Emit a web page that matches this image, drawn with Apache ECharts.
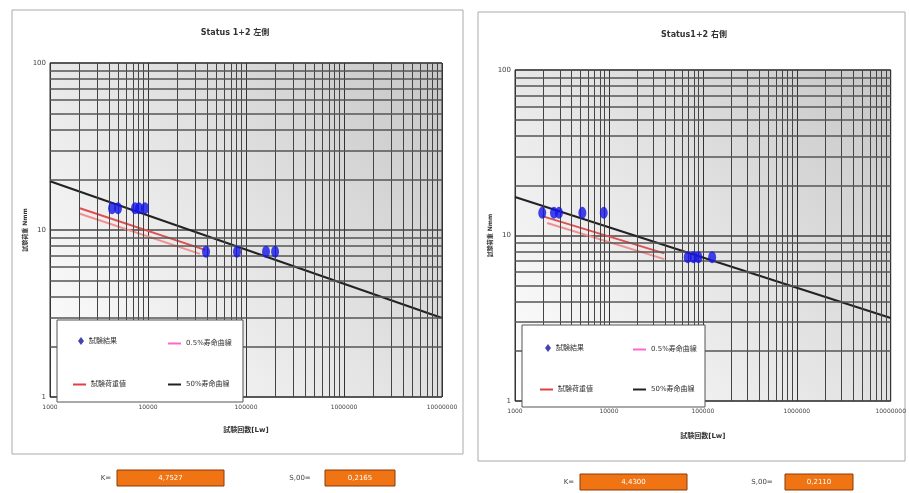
<!DOCTYPE html>
<html><head><meta charset="utf-8">
<script src="https://cdn.jsdelivr.net/npm/echarts@6/dist/echarts.min.js"></script>
<style>html,body{margin:0;padding:0;background:#fff}#c{width:909px;height:493px}</style>
</head><body><div id="c"></div>
<script>
// ---- data ----
const xTickLabels = ['1000','10000','100000','1000000','10000000'];
const yTickLabels = ['1','10','100'];
const titles = ['Status 1+2 左側', 'Status1+2 右側'];
const legendNames = ['試験結果','0.5%寿命曲線','試験荷重値','50%寿命曲線'];
const xName = '試験回数[Lw]';
const yName = '試験荷重 Nmm';

const leftTestN = [4300, 4940, 7370, 8090, 9310, 39100, 80900, 160000, 198000];
const leftTestS = [13.5, 13.5, 13.5, 13.5, 13.5, 7.4, 7.4, 7.4, 7.4];
const leftLife50N = [1000, 10000000];
const leftLife50S = [19.6, 2.97];
const leftRedN = [2020, 38200];
const leftRedS = [13.5, 7.6];
const leftPinkN = [2020, 33900];
const leftPinkS = [12.5, 7.2];

const rightTestN = [1950, 2600, 2940, 5210, 8810, 69000, 79600, 89700, 125600];
const rightTestS = [13.7, 13.7, 13.7, 13.7, 13.7, 7.4, 7.4, 7.4, 7.4];
const rightLife50N = [1000, 10000000];
const rightLife50S = [17.1, 3.17];
const rightRedN = [1950, 38900];
const rightRedS = [13.1, 7.8];
const rightPinkN = [2200, 38900];
const rightPinkS = [11.9, 7.2];

const kLabels = ['K=', 'K='];
const kValues = ['4,7527', '4,4300'];
const sLabels = ['S,00=', 'S,00='];
const sValues = ['0,2165', '0,2110'];

// ---- helpers ----
const zip = (a, b) => a.map((v, i) => [v, b[i]]);
function minorValues(lo, hi) {
  const out = [];
  for (let d = lo; d < hi; d *= 10) for (let k = 2; k <= 9; k++) out.push(k * d);
  return out;
}
const xMinor = minorValues(1000, 10000000);
const yMinor = minorValues(1, 100);

const FONT = 'DejaVu Sans, Noto Sans CJK JP, sans-serif';
const grids = [
  {left: 50, top: 63, width: 392, height: 334},
  {left: 515, top: 70, width: 385, height: 331}
];
const bg = {type:'linear', x:0, y:1, x2:1, y2:0, colorStops:[{offset:0,color:'#ffffff'},{offset:0.5,color:'#e4e4e4'},{offset:1,color:'#c6c6c6'}]};

const option = {
  animation: false,
  textStyle: {fontFamily: FONT},
  grid: grids.map(g => Object.assign({show:true, backgroundColor:bg, borderColor:'#333', borderWidth:1}, g)),
  xAxis: [0,1].map(i => ({
    type:'log', logBase:10, gridIndex:i, min:1000, max:10000000,
    name: xName, nameLocation:'middle', nameGap: i===0 ? 30 : 32,
    nameTextStyle:{fontSize:7, fontWeight:'bold', color:'#333'},
    axisLine:{show:false}, axisTick:{show:false},
    axisLabel:{fontSize:6, color:'#444', margin:7, formatter: v => xTickLabels[Math.round(Math.log10(v)) - 3]},
    splitLine:{show:true, lineStyle:{color:'#333', width:1}}
  })),
  yAxis: [0,1].map(i => ({
    type:'log', logBase:10, gridIndex:i, min:1, max:100,
    name: yName, nameLocation:'middle', nameGap: i===0 ? 20 : 14, nameRotate:90,
    nameTextStyle:{fontSize:6, fontWeight:'bold', color:'#333'},
    axisLine:{show:false}, axisTick:{show:false},
    axisLabel:{fontSize:7, color:'#444', margin:4, formatter: v => yTickLabels[Math.round(Math.log10(v))]},
    splitLine:{show:true, lineStyle:{color:'#444', width:1.5}}
  })),
  legend: [],
  graphic: [],
  series: []
};

const sets = [
  {test: zip(leftTestN, leftTestS), life: zip(leftLife50N, leftLife50S), red: zip(leftRedN, leftRedS), pink: zip(leftPinkN, leftPinkS)},
  {test: zip(rightTestN, rightTestS), life: zip(rightLife50N, rightLife50S), red: zip(rightRedN, rightRedS), pink: zip(rightPinkN, rightPinkS)}
];

sets.forEach((s, i) => {
  option.series.push({
    type:'line', xAxisIndex:i, yAxisIndex:i, data:s.life, symbol:'none', silent:true, z:1,
    lineStyle:{opacity:0},
    markLine:{silent:true, symbol:'none', label:{show:false}, animation:false,
      data: xMinor.map(v => ({xAxis:v, lineStyle:{color:'#444', width:1, type:'solid'}}))
        .concat(yMinor.map(v => ({yAxis:v, lineStyle:{color:'#555', width:1.5, type:'solid'}})))}
  });
  option.series.push({name:legendNames[2], type:'line', xAxisIndex:i, yAxisIndex:i, data:s.red, symbol:'none', z:3,
    lineStyle:{color:'#e05050', width:2}, itemStyle:{color:'#e05050'}});
  option.series.push({name:legendNames[1], type:'line', xAxisIndex:i, yAxisIndex:i, data:s.pink, symbol:'none', z:3,
    lineStyle:{color:'#f09090', width:2}, itemStyle:{color:'#ff66cc'}});
  option.series.push({name:legendNames[3], type:'line', xAxisIndex:i, yAxisIndex:i, data:s.life, symbol:'none', z:4,
    lineStyle:{color:'#222', width:2}, itemStyle:{color:'#222'}});
  option.series.push({name:legendNames[0], type:'scatter', xAxisIndex:i, yAxisIndex:i, data:s.test, symbol:'circle', symbolSize:[8,12], z:5,
    itemStyle:{color:'#1414e6'}});
});

// legends & boxes
const legendLayout = [
  {box:[57,320,186,82], items:[[78,337,'diamond'],[168,340,'pink'],[73,381,'red'],[168,381,'black']]},
  {box:[522,325,183,82], items:[[545,344,'diamond'],[633,346,'pink'],[540,386,'red'],[633,386,'black']]}
];
const lineColors = {pink:'#ff66cc', red:'#e04040', black:'#222'};
legendLayout.forEach((L, i) => {
  option.graphic.push({type:'rect', shape:{x:L.box[0], y:L.box[1], width:L.box[2], height:L.box[3]},
    style:{fill:'#fff', stroke:'#555', lineWidth:1}, z:50});
  L.items.forEach((it, j) => {
    const nm = legendNames[j];
    const lg = {left:it[0], top:it[1], padding:0, itemGap:0, selectedMode:false, z:60,
      textStyle:{fontSize:7, color:'#333', fontFamily:FONT}};
    if (it[2] === 'diamond') {
      lg.data = [{name:nm, icon:'diamond', itemStyle:{color:'#1414a0'}}]; lg.itemWidth = 6; lg.itemHeight = 8;
    } else {
      lg.data = [{name:nm, icon:'rect', itemStyle:{color:lineColors[it[2]]}}]; lg.itemWidth = 13; lg.itemHeight = 2;
    }
    option.legend.push(lg);
  });
});

// frames, titles, bottom values
option.graphic.push(
  {type:'rect', shape:{x:12, y:10, width:451, height:444}, style:{fill:'none', stroke:'#aaa', lineWidth:1}, z:-10, silent:true},
  {type:'rect', shape:{x:478, y:12, width:427, height:449}, style:{fill:'none', stroke:'#aaa', lineWidth:1}, z:-10, silent:true},
  {type:'text', x:235, y:33, style:{text:titles[0], fill:'#333', font:'bold 8px ' + FONT, textAlign:'center', textVerticalAlign:'middle'}},
  {type:'text', x:694, y:35, style:{text:titles[1], fill:'#333', font:'bold 8px ' + FONT, textAlign:'center', textVerticalAlign:'middle'}}
);
const bottom = [
  {kx:106, sx:300, y:478, k:[117,470,107,16], s:[325,470,70,16]},
  {kx:569, sx:762, y:482, k:[580,474,107,16], s:[785,474,68,16]}
];
bottom.forEach((b, i) => {
  option.graphic.push(
    {type:'text', x:b.kx, y:b.y, style:{text:kLabels[i], fill:'#444', font:'7px ' + FONT, textAlign:'center', textVerticalAlign:'middle'}},
    {type:'text', x:b.sx, y:b.y, style:{text:sLabels[i], fill:'#444', font:'7px ' + FONT, textAlign:'center', textVerticalAlign:'middle'}},
    {type:'rect', shape:{x:b.k[0], y:b.k[1], width:b.k[2], height:b.k[3]}, style:{fill:'#f07414', stroke:'#8a3a08', lineWidth:1}},
    {type:'rect', shape:{x:b.s[0], y:b.s[1], width:b.s[2], height:b.s[3]}, style:{fill:'#f07414', stroke:'#8a3a08', lineWidth:1}},
    {type:'text', x:b.k[0]+b.k[2]/2, y:b.y, style:{text:kValues[i], fill:'#fff', font:'7px ' + FONT, textAlign:'center', textVerticalAlign:'middle'}, z:10},
    {type:'text', x:b.s[0]+b.s[2]/2, y:b.y, style:{text:sValues[i], fill:'#fff', font:'7px ' + FONT, textAlign:'center', textVerticalAlign:'middle'}, z:10}
  );
});

const chart = echarts.init(document.getElementById('c'), null, {renderer:'canvas'});
chart.setOption(option);
</script></body></html>
